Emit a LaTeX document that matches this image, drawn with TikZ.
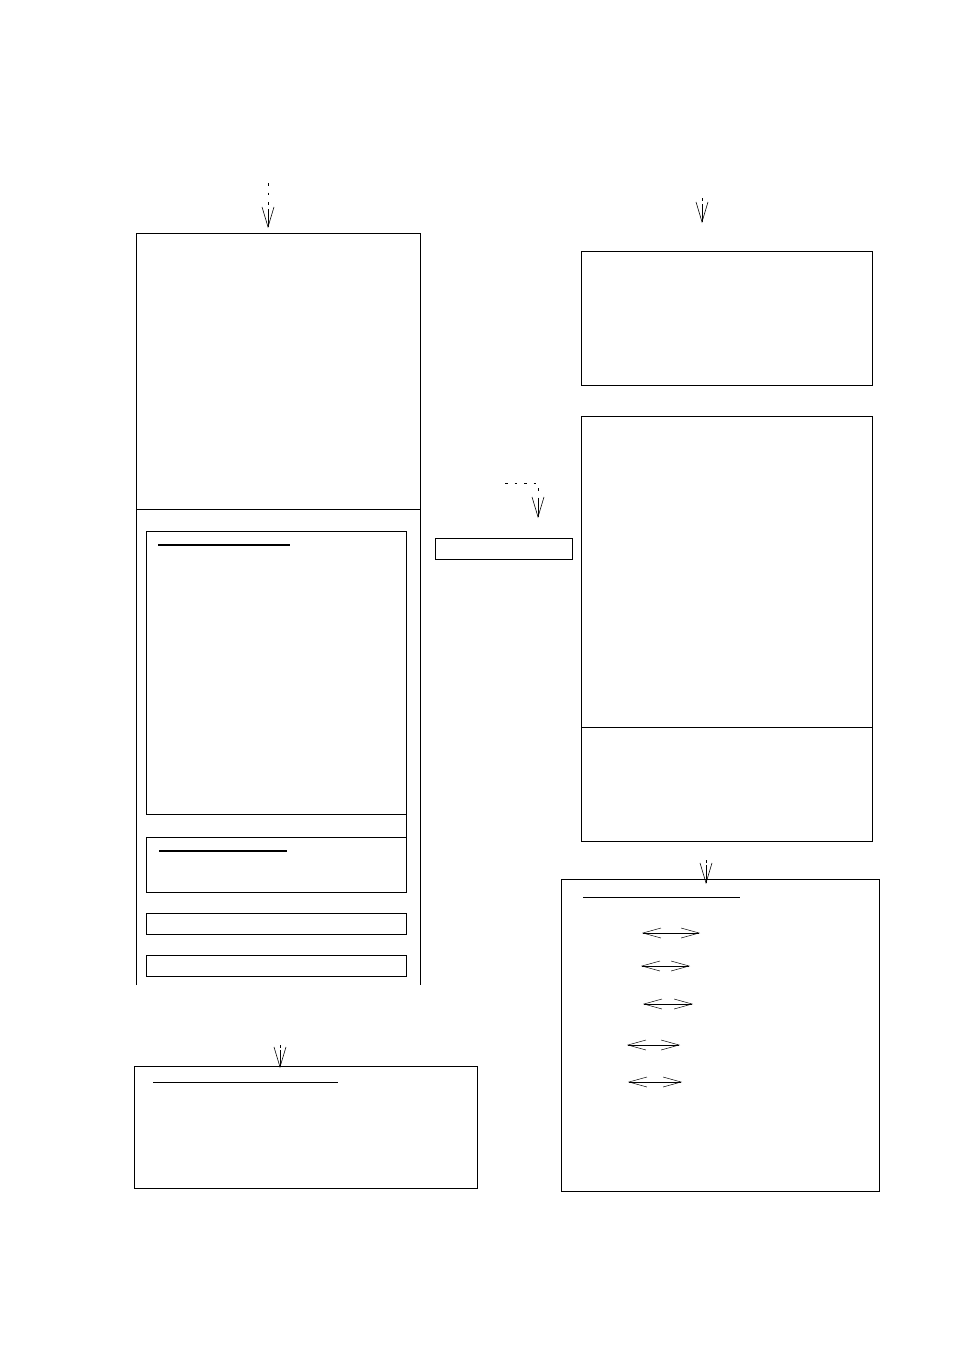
\documentclass[tikz,border=0pt]{standalone}
\usetikzlibrary{arrows.meta,calc}
\begin{document}
\begin{tikzpicture}[x=1pt,y=-1pt,
  box/.style={draw,line width=0.8pt,rectangle,anchor=north west,inner sep=0pt,outer sep=0pt},
  uline/.style={line width=1.6pt},
  dotline/.style={line width=0.7pt,dash pattern=on 2.5pt off 7pt},
  tipline/.style={line width=0.7pt,-{Straight Barb[length=20pt,width=12pt,line width=0.6pt]}},
  dblarrow/.style={line width=0.8pt,{Straight Barb[length=18pt,width=10pt,line width=0.5pt]}-{Straight Barb[length=18pt,width=10pt,line width=0.5pt]}}
]
\useasboundingbox (0,0) rectangle (954,1350);
% big left frame (open bottom)
\coordinate (L1) at (136,985); \coordinate (L2) at (136,233);
\coordinate (L3) at (420,233); \coordinate (L4) at (420,985);
\draw[line width=0.8pt] (L1) -- (L2) -- (L3) -- (L4);
\draw[line width=0.8pt] (136,509) -- (420,509);
% inner boxes of left frame
\node[box,minimum width=260pt,minimum height=283pt] (in1) at (146,531) {};
\node[box,minimum width=260pt,minimum height=55pt] (in2) at (146,837) {};
\draw[line width=0.8pt] (in1.south east) -- (in2.north east);
\node[box,minimum width=260pt,minimum height=21pt] (in3) at (146,913) {};
\node[box,minimum width=260pt,minimum height=21pt] (in4) at (146,955) {};
\draw[uline] (158,545) -- (290,545);
\draw[uline] (159,851) -- (287,851);
% arrow into left frame
\coordinate (a1s) at (268,183); \coordinate (a1m) at (268,209); \coordinate (a1e) at (268,228);
\draw[dotline] (a1s) -- (a1m);
\draw[tipline] (a1m) -- (a1e);
% middle small box
\node[box,minimum width=137pt,minimum height=21pt] (mid) at (435,538) {};
\coordinate (a2s) at (505,483); \coordinate (a2k) at (538,483);
\coordinate (a2m) at (538,499); \coordinate (a2e) at (538,518);
\draw[dotline] (a2s) -- (a2k) -- (a2m);
\draw[tipline] (a2m) -- (a2e);
% right top box
\node[box,minimum width=291pt,minimum height=134pt] (rt) at (581,251) {};
\coordinate (a3s) at (702,198); \coordinate (a3m) at (702,204); \coordinate (a3e) at (702,223);
\draw[dotline] (a3s) -- (a3m);
\draw[tipline] (a3m) -- (a3e);
% right middle box
\node[box,minimum width=291pt,minimum height=425pt] (rm) at (581,416) {};
\draw[line width=0.8pt] (581,727) -- (872,727);
% right bottom box
\node[box,minimum width=318pt,minimum height=312pt] (rb) at (561,879) {};
\coordinate (a4s) at (706,860); \coordinate (a4m) at (706,865); \coordinate (a4e) at (706,884);
\draw[dotline] (a4s) -- (a4m);
\draw[tipline] (a4m) -- (a4e);
\draw[line width=1pt] (583,897) -- (740,897);
\coordinate (d1a) at (642,933); \coordinate (d1b) at (700,933);
\coordinate (d2a) at (641,966); \coordinate (d2b) at (690,966);
\coordinate (d3a) at (643,1004); \coordinate (d3b) at (693,1004);
\coordinate (d4a) at (627,1045); \coordinate (d4b) at (680,1045);
\coordinate (d5a) at (628,1082); \coordinate (d5b) at (682,1082);
\draw[dblarrow] (d1a) -- (d1b);
\draw[dblarrow] (d2a) -- (d2b);
\draw[dblarrow] (d3a) -- (d3b);
\draw[dblarrow] (d4a) -- (d4b);
\draw[dblarrow] (d5a) -- (d5b);
% bottom left box
\node[box,minimum width=343pt,minimum height=122pt] (bl) at (134,1066) {};
\coordinate (a5s) at (280,1045); \coordinate (a5m) at (280,1050); \coordinate (a5e) at (280,1068);
\draw[dotline] (a5s) -- (a5m);
\draw[tipline] (a5m) -- (a5e);
\draw[line width=1pt] (153,1082) -- (338,1082);
\end{tikzpicture}
\end{document}
